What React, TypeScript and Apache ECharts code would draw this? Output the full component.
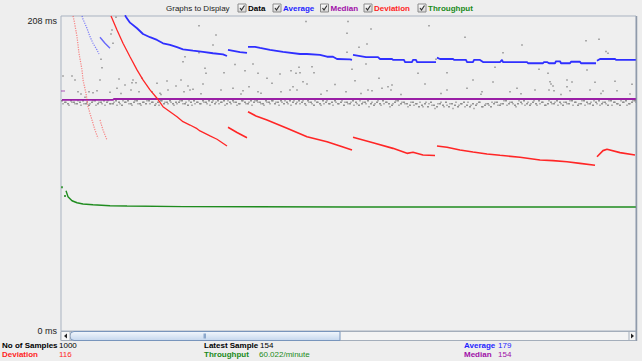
import React, { useEffect, useRef } from "react";
import * as echarts from "echarts";

// ---------- data ----------
const yTickLabels = ["0 ms", "208 ms"];
const yMax = 208;
const visibleSamples = 575;

const legendNames = ["Data", "Average", "Median", "Deviation", "Throughput"];
const legendColors = ["#000000", "#1f1fff", "#a010a8", "#ff1f1f", "#1a8a1a"];

const statLabels = ["No of Samples", "Deviation", "Latest Sample", "Throughput", "Average", "Median"];
const statValues = ["1000", "116", "154", "60.022/minute", "179", "154"];
const statColors = ["#000000", "#ff1f1f", "#000000", "#1a8a1a", "#1f1fff", "#a010a8"];

// Average (ms) per sample, segments between graph resets
const avgSeg1 = [[21, 208], [22, 205.9], [26, 199.9], [29, 194.4], [32, 190], [36, 185.6], [38, 182.9]];
const avgSeg2 = [[39, 194], [44, 190], [49, 186.7]];
const avgSeg3 = [[64, 208.5], [65, 207.4], [69, 203.6], [76, 199.9], [82, 196.1], [89, 194], [96, 192.2], [102, 190], [109, 188.9], [116, 187.4], [122, 186], [132, 185.1], [142, 184.3], [152, 183.4], [162, 182.7], [166, 181.6]];
const avgSeg4 = [[167, 185.6], [179, 184.1], [186, 183.6]];
const avgSeg5 = [[187, 187.6], [194, 187.6], [199, 186.9], [209, 185.6], [222, 184.3], [239, 182.9], [246, 182.9], [259, 182.3], [266, 181.1], [272, 181.1], [276, 179.6], [289, 179.3], [291, 179]];
const avgSeg6 = [[292, 182.3], [305, 180.8], [317, 180.8], [319, 179.6], [331, 179.6], [332, 179], [343, 179], [344, 177.6], [351, 177.6], [352, 179], [355, 179], [356, 177.6], [375, 177.6]];
const avgSeg7 = [[376, 180.5], [379, 179.6], [392, 179.6], [393, 179], [405, 179], [406, 177.6], [412, 177.6], [413, 179], [419, 179], [422, 177.6], [439, 177.6], [441, 179], [442, 177.6], [466, 177.6], [467, 176.8], [482, 176.8], [483, 177.6], [486, 177.6], [488, 176.8], [494, 176.8], [495, 178.1], [499, 178.1], [500, 176.8], [509, 176.8], [510, 177.8], [519, 177.8], [520, 176.8], [535, 176.8]];
const avgSeg8 = [[536, 178.5], [539, 179.6], [554, 179.6], [555, 179], [575, 179]];

// Deviation (ms)
const devSeg1 = [[12, 208], [13, 205.4], [16, 194.4], [18, 183.4], [21, 172.4], [22, 165.8], [25, 157], [27, 148.1], [31, 139.3], [34, 132.7], [37, 127.3]];
const devSeg2 = [[39, 139.3], [42, 132.7], [46, 126.1]];
const devSeg3 = [[50, 208], [51, 206.5], [56, 198.8], [62, 190], [69, 181.1], [76, 172.4], [82, 165.8], [89, 159.2], [96, 153.7], [102, 148.1], [109, 144.8], [116, 141.5], [122, 138.2], [129, 136], [136, 133.6], [139, 132.1], [149, 128.8], [156, 126.6], [166, 122.2]];
const devSeg4 = [[167, 134.5], [176, 131.1], [186, 127.6]];
const devSeg5 = [[187, 144.8], [195, 142], [206, 139.3], [226, 133.9], [246, 128.3], [266, 125], [279, 122.2], [291, 119.5]];
const devSeg6 = [[292, 127.9], [312, 124.3], [332, 120.6], [346, 117.3], [352, 118], [362, 116.2], [374, 115.9]];
const devSeg7 = [[376, 122.2], [386, 121.3], [399, 119.5], [412, 118.2], [426, 116.9], [439, 116], [459, 114.7], [479, 112.9], [492, 112.5], [506, 111.8], [519, 110.7], [534, 109.4]];
const devSeg8 = [[536, 115.1], [542, 119.1], [546, 120], [559, 117.8], [574, 116.2]];

// Median (ms)
const medianStart = [[0, 158.5], [4, 158.5]];
const medianLine = [[1, 152.6], [52, 152.6], [53, 153.2], [575, 153.2]];

// Throughput (plotted scale)
const throughputLine = [[5, 92.6], [7, 88.7], [11, 86], [16, 84.7], [22, 83.9], [32, 83.4], [49, 82.7], [66, 82.5], [122, 82.1], [289, 81.9], [575, 81.9]];
const throughputStray = [[1, 94.9], [4, 89.2]];

// Individual samples (ms) that stand out above the median band
const upperDots = [
  [2, 168.4], [11, 168.4], [14, 165.8], [17, 158], [24, 154.3], [28, 158], [32, 157.4], [36, 158.7], [39, 165.8], [40, 179.4],
  [41, 173.9], [49, 157.6], [50, 196.1], [51, 198.8], [52, 190], [55, 207.2], [56, 160.3], [58, 166.4], [64, 162.5], [70, 159.2],
  [72, 165.8], [71, 164], [75, 164], [78, 158], [81, 166.9], [91, 158], [96, 163.6], [99, 157], [106, 165.1], [107, 159.2],
  [115, 161.8], [120, 165.8], [122, 177.8], [123, 158], [124, 181.1], [127, 161.8], [129, 159.2], [132, 159.6], [138, 201.6], [138, 183.8],
  [245, 204.3], [287, 204.3], [368, 201.6], [310, 199.4], [155, 195.5], [286, 196.6], [404, 194], [538, 192.6], [525, 191.7], [461, 188.9],
  [152, 188.9], [306, 189.5], [298, 187.4], [286, 184.1], [442, 183.8], [545, 184.5], [547, 183.4], [375, 179.4], [192, 176.3], [174, 175.9],
  [305, 176.3], [144, 173.5], [291, 172.8], [184, 171.9], [230, 171.9], [238, 174.2], [251, 174.5], [434, 174.2], [478, 172.8], [526, 172.4],
  [163, 170.6], [197, 170.2], [219, 169.7], [235, 170.2], [239, 170.6], [253, 170.6], [357, 170.2], [386, 170.6], [487, 170.2], [145, 170.2],
  [206, 166.9], [318, 166.9], [412, 165.8], [432, 164.4], [489, 164.6], [506, 165.8], [511, 164.4], [534, 164.2], [554, 164.9], [242, 164.6],
  [294, 165.3], [142, 163.1], [188, 161.3], [211, 163.6], [246, 163.1], [274, 162.7], [331, 162.5], [364, 163.1], [490, 163.1], [571, 162.9],
  [492, 161.8], [406, 160.3], [172, 160.3], [232, 161.3], [236, 159.2], [229, 159.2], [160, 159.2], [182, 158.7], [197, 158], [220, 158],
  [266, 158.7], [285, 158], [307, 159.2], [311, 158.7], [321, 160.3], [327, 161.3], [330, 159.2], [386, 159.2], [421, 158], [449, 158],
  [456, 160.3], [474, 159.2], [488, 159.2], [493, 158.7], [506, 161.3], [509, 158.7], [529, 159.2], [542, 158.5], [556, 158.7], [569, 156.5],
  [180, 156.5], [200, 157], [260, 156.3], [300, 156.8], [340, 156.2], [380, 156.9], [420, 156.4], [460, 156.6], [500, 156.2], [540, 156.9],
  [20, 156.5], [60, 156.8], [100, 156.2], [140, 156.6]
];

// Samples just below the median line, every 3rd sample starting at sample 1
const bandStart = 1;
const bandStep = 3;
const bandValues = [
  152, 151, 150, 152, 151, 150, 151, 152, 150, 149, 151, 152, 150, 151, 152, 151, 150, 150, 152, 151, 149, 151, 152, 150,
  151, 152, 150, 151, 150, 152, 151, 149, 151, 152, 150, 151, 152, 150, 151, 151, 152, 150, 149, 151, 152, 151, 150, 152,
  151, 152, 151, 150, 152, 151, 152, 150, 151, 152, 151, 150, 152, 151, 150, 152, 151, 152, 151, 150, 152, 151, 152, 150,
  151, 152, 150, 151, 152, 151, 150, 152, 151, 150, 152, 151, 149, 151, 150, 152, 151, 150, 151, 152, 150, 151, 149, 151,
  150, 152, 151, 149, 150, 151, 152, 150, 149, 151, 150, 152, 151, 150, 149, 151, 152, 150, 151, 150, 149, 151, 150, 148,
  149, 150, 148, 151, 149, 148, 150, 149, 151, 148, 150, 149, 148, 150, 151, 149, 148, 150, 149, 151, 148, 149, 150, 148,
  150, 151, 149, 150, 152, 150, 151, 149, 150, 151, 152, 150, 149, 151, 150, 152, 151, 149, 150, 151, 150, 152, 151, 149,
  151, 150, 152, 151, 149, 150, 152, 151, 150, 149, 151, 152, 150, 151, 149, 152, 151, 150, 149, 151, 152, 150, 151, 152
];
// A second set of below-median samples, every 3rd sample starting at sample 2
const band2Start = 2;
const band2Values = [
  150, 151, 149, 151, 150, 152, 149, 150, 151, 150, 152, 149, 151, 150, 149, 152, 150, 151, 149, 150, 152, 151, 150, 149,
  152, 150, 149, 151, 152, 150, 151, 150, 149, 152, 151, 150, 151, 149, 150, 152, 150, 151, 152, 149, 150, 151, 150, 151,
  150, 149, 152, 151, 150, 151, 149, 152, 150, 151, 149, 150, 152, 150, 151, 149, 152, 151, 150, 149, 151, 150, 152, 151,
  149, 151, 152, 150, 149, 152, 151, 150, 152, 149, 151, 150, 152, 151, 149, 150, 152, 150, 149, 151, 150, 152, 151, 150,
  151, 149, 150, 152, 151, 150, 148, 151, 150, 152, 149, 150, 151, 148, 150, 152, 149, 151, 150, 148, 151, 149, 150, 151,
  148, 151, 150, 149, 147, 150, 151, 148, 149, 150, 147, 151, 149, 150, 148, 151, 149, 147, 150, 151, 148, 150, 149, 151,
  151, 149, 150, 152, 149, 151, 150, 148, 152, 150, 149, 151, 150, 152, 149, 150, 151, 149, 152, 150, 151, 149, 150, 151,
  150, 152, 149, 151, 150, 152, 149, 150, 151, 152, 150, 149, 151, 150, 152, 149, 151, 150, 152, 151, 149, 150, 152, 151
];

// ---------- component ----------
const FONT = '"Liberation Sans", Arial, sans-serif';

function lineSeries(data: number[][], color: string, width: number, opts: any = {}) {
  return {
    type: "line",
    data,
    symbol: "none",
    silent: true,
    clip: true,
    lineStyle: { color, width, type: opts.type || "solid", opacity: opts.opacity ?? 1 },
    z: opts.z ?? 3,
  };
}

export default function App() {
  const ref = useRef<HTMLDivElement>(null);

  useEffect(() => {
    if (!ref.current) return;
    const chart = echarts.init(ref.current, null, { renderer: "svg" });

    const blue = "#2f2fff";
    const purple = "#9a1fa6";
    const red = "#ff2626";
    const green = "#1f8c1f";

    const bandDots = bandValues.map((v, i) => [bandStart + i * bandStep, v]);
    const bandDots2 = band2Values.map((v, i) => [band2Start + i * bandStep, v]);

    const graphics: any[] = [];

    // Header
    graphics.push({
      type: "text", x: 166, y: 8,
      style: { text: "Graphs to Display", font: `8px ${FONT}`, fill: "#222", verticalAlign: "middle" },
    });
    const boxX = [238, 273, 320.5, 364, 418];
    legendNames.forEach((name, i) => {
      const bx = boxX[i];
      graphics.push({
        type: "rect", shape: { x: bx, y: 4, width: 8, height: 8 },
        style: {
          fill: new echarts.graphic.LinearGradient(0, 0, 0, 1, [
            { offset: 0, color: "#ffffff" }, { offset: 1, color: "#d4d4d4" },
          ]),
          stroke: "#8a8a8a", lineWidth: 1,
        },
      });
      graphics.push({
        type: "polyline", shape: { points: [[bx + 2, 8], [bx + 3.5, 10], [bx + 6.5, 5.5]] },
        style: { stroke: "#333", lineWidth: 1.2, fill: null },
      });
      graphics.push({
        type: "text", x: bx + 10, y: 8,
        style: { text: name, font: `bold 8px ${FONT}`, fill: legendColors[i], verticalAlign: "middle" },
      });
    });

    // Scrollbar
    graphics.push({
      type: "rect", z: 100, shape: { x: 61, y: 331.5, width: 575, height: 9 },
      style: { fill: "#f4f4f4", stroke: "#a4aebb", lineWidth: 1 },
    });
    graphics.push({
      type: "rect", z: 101, shape: { x: 70, y: 331.5, width: 270, height: 9, r: [4, 0, 0, 4] },
      style: {
        fill: new echarts.graphic.LinearGradient(0, 0, 0, 1, [
          { offset: 0, color: "#f2f7fd" }, { offset: 1, color: "#c5d7ee" },
        ]),
        stroke: "#7895bc", lineWidth: 1,
      },
    });
    graphics.push({
      type: "rect", z: 102, shape: { x: 203.5, y: 333.5, width: 2.5, height: 5 },
      style: { fill: "#8ca8cc" },
    });
    graphics.push({
      type: "rect", z: 101, shape: { x: 61, y: 331.5, width: 9, height: 9 },
      style: { fill: "#f6f6f6", stroke: "#a4aebb", lineWidth: 1 },
    });
    graphics.push({
      type: "polygon", z: 102, shape: { points: [[67, 333.5], [67, 338.5], [64, 336]] },
      style: { fill: "#222" },
    });
    graphics.push({
      type: "rect", z: 101, shape: { x: 629, y: 331.5, width: 7, height: 9 },
      style: { fill: "#f6f6f6", stroke: "#a4aebb", lineWidth: 1 },
    });
    graphics.push({
      type: "polygon", z: 102, shape: { points: [[631, 333.5], [631, 338.5], [634, 336]] },
      style: { fill: "#222" },
    });
    graphics.push({
      type: "line", z: 103, shape: { x1: 636.5, y1: 16, x2: 636.5, y2: 341 },
      style: { stroke: "#8f9aaa", lineWidth: 1.5 },
    });

    // Footer stats
    const statX = [2, 2, 204, 204, 464, 464];
    const valX = [59, 59, 260, 259, 498, 498];
    const rowY = [345, 354, 345, 354, 345, 354];
    statLabels.forEach((lab, i) => {
      graphics.push({
        type: "text", x: statX[i], y: rowY[i],
        style: { text: lab, font: `bold 8px ${FONT}`, fill: statColors[i], verticalAlign: "middle" },
      });
      graphics.push({
        type: "text", x: valX[i], y: rowY[i],
        style: { text: statValues[i], font: `8px ${FONT}`, fill: statColors[i], verticalAlign: "middle" },
      });
    });

    chart.setOption({
      animation: false,
      backgroundColor: "#eeeeee",
      grid: {
        left: 61, top: 16, width: 575, height: 315,
        show: true, backgroundColor: "#efefef", borderColor: "#a9b3c1", borderWidth: 1,
      },
      xAxis: {
        type: "value", min: 0, max: visibleSamples, show: false,
      },
      yAxis: {
        type: "value", min: 0, max: yMax, interval: yMax,
        axisLine: { show: false }, axisTick: { show: false }, splitLine: { show: false },
        axisLabel: {
          margin: 4, fontSize: 9, color: "#222", fontFamily: FONT,
          formatter: (v: number) => (v === 0 ? yTickLabels[0] : yTickLabels[1]),
          verticalAlignMaxLabel: "top",
          verticalAlignMinLabel: "middle",
        },
      },
      series: [
        { type: "scatter", data: bandDots, symbol: "rect", symbolSize: 1.5, itemStyle: { color: "#555555" }, silent: true, z: 2 },
        { type: "scatter", data: bandDots2, symbol: "rect", symbolSize: 1.5, itemStyle: { color: "#8a8a8a" }, silent: true, z: 2 },
        { type: "scatter", data: upperDots, symbol: "rect", symbolSize: 1.5, itemStyle: { color: "#7a7a7a" }, silent: true, z: 2 },
        lineSeries(avgSeg1, blue, 1.2, { type: "dotted", opacity: 0.6 }),
        lineSeries(avgSeg2, blue, 1.4, { opacity: 0.7 }),
        lineSeries(avgSeg3, blue, 1.8),
        lineSeries(avgSeg4, blue, 1.8),
        lineSeries(avgSeg5, blue, 1.8),
        lineSeries(avgSeg6, blue, 1.8),
        lineSeries(avgSeg7, blue, 1.8),
        lineSeries(avgSeg8, blue, 1.8),
        lineSeries(medianStart, purple, 1.5, { opacity: 0.5 }),
        lineSeries(medianLine, purple, 1.8),
        lineSeries(devSeg1, red, 1.2, { type: "dotted", opacity: 0.55 }),
        lineSeries(devSeg2, red, 1.2, { type: "dotted", opacity: 0.55 }),
        lineSeries(devSeg3, red, 1.3),
        lineSeries(devSeg4, red, 1.6),
        lineSeries(devSeg5, red, 1.6),
        lineSeries(devSeg6, red, 1.6),
        lineSeries(devSeg7, red, 1.6),
        lineSeries(devSeg8, red, 1.6),
        lineSeries(throughputLine, green, 1.4),
        { type: "scatter", data: throughputStray, symbol: "rect", symbolSize: 2, itemStyle: { color: green }, silent: true, z: 3 },
      ],
      graphic: graphics,
    });

    return () => chart.dispose();
  }, []);

  return (
    <div
      ref={ref}
      style={{ position: "fixed", left: 0, top: 0, width: 642, height: 361, background: "#eeeeee" }}
    />
  );
}
